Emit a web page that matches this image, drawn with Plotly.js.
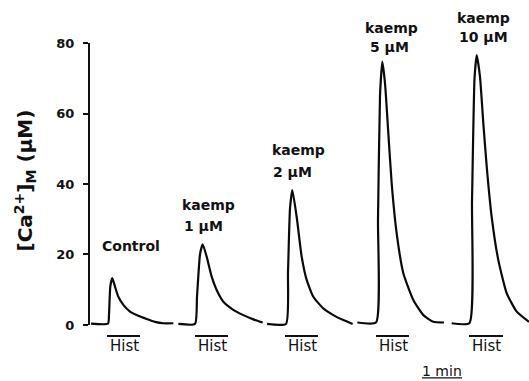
<!DOCTYPE html>
<html>
<head>
<meta charset="utf-8">
<script src="https://cdn.plot.ly/plotly-3.0.1.min.js"></script>
<style>html,body{margin:0;padding:0;background:#fff;}#chart{width:529px;height:381px;}</style>
</head>
<body>
<div id="chart"></div>
<script>
// time in seconds (each recording placed side by side), [Ca2+]M in µM
const controlT = [3, 28.5, 30, 32, 35, 39, 44, 51.5, 61.5, 74, 86.5, 99, 111.5, 126.5];
const controlCa = [0.4, 0.4, 3, 11, 13.3, 10.9, 8.0, 5.7, 3.8, 2.6, 1.7, 0.9, 0.5, 0.5];

const k1T = [134, 159, 162, 166.5, 170.5, 176.5, 184, 191.5, 201.5, 216.5, 231.5, 246.5, 260.5];
const k1Ca = [0.3, 0.3, 8, 20, 22.9, 19.4, 13.7, 9.9, 6.6, 4.3, 2.8, 1.6, 0.7];

const k2T = [267, 295.5, 298.5, 301.5, 305, 311.5, 319, 326.5, 336.5, 351.5, 366.5, 381.5, 395.5];
const k2Ca = [0.3, 0.3, 15, 33, 38.3, 30.7, 19.4, 12.8, 8.0, 4.7, 2.8, 1.4, 0.3];

const k5T = [402.5, 430.5, 433.5, 436.5, 440, 444, 449, 454, 461.5, 471.5, 486.5, 501.5, 516.5, 532.5];
const k5Ca = [0.7, 0.7, 30, 65, 74.7, 68.6, 54.4, 40.2, 26, 14.7, 7.1, 2.8, 0.9, 0.7];

const k10T = [544, 570.5, 574.5, 578.3, 581.6, 586.5, 591.5, 596.6, 604, 614, 626.6, 641.6, 660];
const k10Ca = [0.5, 0.5, 35, 70, 76.6, 70.4, 57.2, 44.9, 30.7, 18.4, 9, 3.8, 0.9];

// histamine application bars (start, end in s)
const histStart = [27, 159, 294, 430.5, 570];
const histEnd = [76.5, 208.5, 343.5, 480, 621];
const histLabel = "Hist";
const histLevel = -3.1;

// scale bar
const scaleStart = 499.5;
const scaleLen = 60; // 1 min
const scaleLabel = "1 min";
const scaleLevel = -15.0;

// condition labels
const condLine1 = ["Control", "kaemp", "kaemp", "kaemp", "kaemp"];
const condLine2 = ["", "1 µM", "2 µM", "5 µM", "10 µM"];
const cond1X = [16.5, 136.5, 271.5, 411, 549];
const cond1Y = [22.4, 34.0, 49.6, 84.3, 87.1];
const cond2X = [null, 139.5, 273, 418.5, 552];
const cond2Y = [null, 28.1, 43.4, 78.9, 81.7];

const yTicks = [0, 20, 40, 60, 80];

const lineStyle = {color: '#0a0a0a', width: 2.2, shape: 'spline', smoothing: 0.5};
const series = [[controlT, controlCa], [k1T, k1Ca], [k2T, k2Ca], [k5T, k5Ca], [k10T, k10Ca]];
const traces = series.map(s => ({
  x: s[0], y: s[1], type: 'scatter', mode: 'lines', line: lineStyle,
  hoverinfo: 'skip', showlegend: false, cliponaxis: false
}));
histStart.forEach((s, i) => {
  traces.push({x: [s, histEnd[i]], y: [histLevel, histLevel], type: 'scatter', mode: 'lines',
    line: {color: '#111', width: 2}, showlegend: false, hoverinfo: 'skip', cliponaxis: false});
});
traces.push({x: [scaleStart, scaleStart + scaleLen], y: [scaleLevel, scaleLevel], type: 'scatter', mode: 'lines',
  line: {color: '#111', width: 1.3}, showlegend: false, hoverinfo: 'skip', cliponaxis: false});

const bold = {family: 'DejaVu Sans, Arial, sans-serif', size: 14, color: '#111', weight: 'bold'};
const annotations = [];
condLine1.forEach((t, i) => {
  annotations.push({x: cond1X[i], y: cond1Y[i], xref: 'x', yref: 'y', text: '<b>' + t + '</b>',
    showarrow: false, xanchor: 'left', yanchor: 'middle', font: bold});
  if (condLine2[i]) {
    annotations.push({x: cond2X[i], y: cond2Y[i], xref: 'x', yref: 'y', text: '<b>' + condLine2[i] + '</b>',
      showarrow: false, xanchor: 'left', yanchor: 'middle', font: bold});
  }
});
histStart.forEach((s, i) => {
  annotations.push({x: (s + histEnd[i]) / 2 + 1, y: -6.0, xref: 'x', yref: 'y', text: histLabel,
    showarrow: false, xanchor: 'center', yanchor: 'middle',
    font: {family: 'DejaVu Sans, Arial, sans-serif', size: 15, color: '#111'}});
});
annotations.push({x: scaleStart + scaleLen / 2, y: -13.0, xref: 'x', yref: 'y', text: scaleLabel,
  showarrow: false, xanchor: 'center', yanchor: 'middle',
  font: {family: 'DejaVu Sans, Arial, sans-serif', size: 14, color: '#111'}});
// y-axis title
annotations.push({x: 0, xref: 'paper', xshift: -64, y: 41, yref: 'y', textangle: -90,
  text: '<b>[Ca<sup>2+</sup>]<sub>M</sub> (µM)</b>', showarrow: false, xanchor: 'center', yanchor: 'middle',
  font: {family: 'DejaVu Sans, Arial, sans-serif', size: 20, color: '#111'}});

const layout = {
  width: 529, height: 381,
  margin: {l: 89, r: 0, t: 0, b: 0},
  paper_bgcolor: '#fff', plot_bgcolor: '#fff',
  showlegend: false,
  xaxis: {range: [0, 660], visible: false, fixedrange: true},
  yaxis: {range: [-15.89, 92.2], tickvals: yTicks, ticktext: yTicks.map(String),
    ticks: 'outside', ticklen: 5, tickwidth: 2, tickcolor: '#111',
    showgrid: false, zeroline: false, showline: false, ticklabelstandoff: 6,
    tickfont: {family: 'DejaVu Sans, Arial, sans-serif', size: 13, color: '#111', weight: 'bold'},
    fixedrange: true},
  shapes: [{type: 'line', xref: 'paper', x0: 0, x1: 0, yref: 'y', y0: 0, y1: 80,
    line: {color: '#111', width: 2}}],
  annotations: annotations
};

Plotly.newPlot('chart', traces, layout, {displayModeBar: false, staticPlot: true});
</script>
</body>
</html>
